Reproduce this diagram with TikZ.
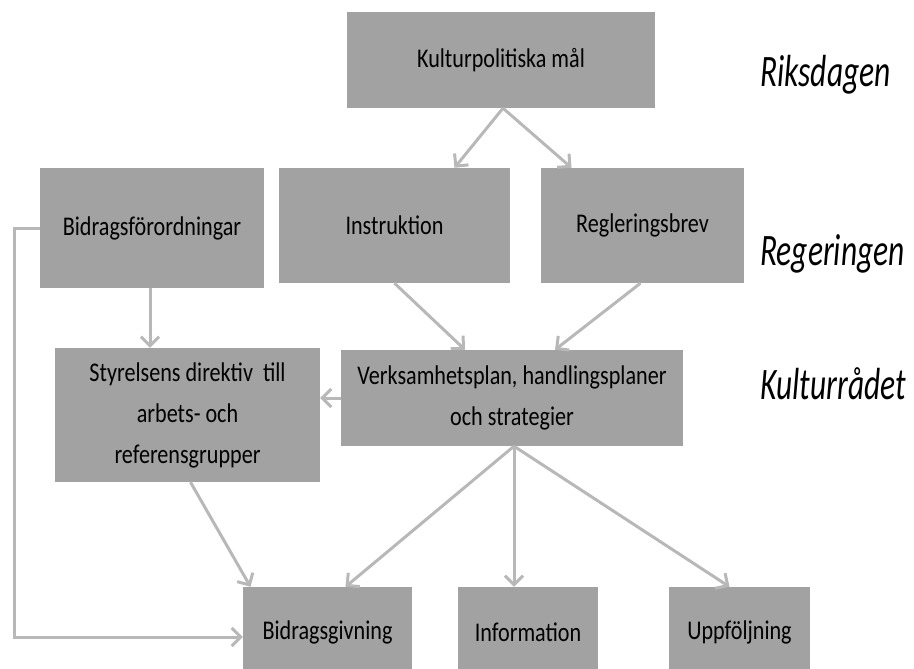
\documentclass[tikz,border=0pt]{standalone}
\usepackage{fontspec}
\setmainfont{Carlito}
\newfontfamily\boxfont[FakeStretch=0.82]{Carlito}
\newfontfamily\lvlfont[FakeStretch=0.7]{Carlito}
\usetikzlibrary{arrows.meta,calc}
\definecolor{boxgray}{HTML}{A2A2A2}
\definecolor{linegray}{HTML}{B8B8B8}
\begin{document}
\begin{tikzpicture}[x=1pt,y=-1pt,
  box/.style={fill=boxgray, draw=none, inner sep=0pt, align=center,
    font=\boxfont\fontsize{27}{41}\selectfont},
  conn/.style={draw=linegray, line width=3pt,
    -{Straight Barb[length=9pt,width=18pt,line width=3pt]}},
  lvl/.style={anchor=base west, inner sep=0pt, font=\lvlfont\fontsize{45}{50}\selectfont\itshape}]
\useasboundingbox (0,0) rectangle (914,669);

\node[box, minimum width=308, minimum height=96] (K) at (501,60) {Kulturpolitiska mål};
\node[box, minimum width=231, minimum height=115] (ins) at (394.5,225.5) {Instruktion};
\node[box, minimum width=203, minimum height=115] (reg) at (642.5,225.5) {Regleringsbrev};
\node[box, minimum width=224, minimum height=120] (bf) at (152,228) {Bidragsförordningar};
\node[box, minimum width=265, minimum height=134] (styr) at (187.5,415) {Styrelsens direktiv\ \ till\\arbets- och\\referensgrupper};
\node[box, minimum width=342, minimum height=96] (verk) at (512,398) {Verksamhetsplan, handlingsplaner\\och strategier};
\node[box, minimum width=169, minimum height=90] (bg) at (327.5,632) {Bidragsgivning};
\node[box, minimum width=140, minimum height=90] (info) at (528,632) {Information};
\node[box, minimum width=141, minimum height=90] (upp) at (739.5,632) {Uppföljning};

\node[lvl] (riks) at (760,87) {Riksdagen};
\node[lvl] (rege) at (760,265) {Regeringen};
\node[lvl] (kult) at (760,399) {Kulturrådet};

\draw[conn] ([xshift=2pt]K.south) -- ([xshift=60pt]ins.north);
\draw[conn] ([xshift=2pt]K.south) -- ([xshift=-71pt]reg.north);
\draw[conn] (ins.south) -- ([xshift=-47pt]verk.north);
\draw[conn] ([xshift=-2pt]reg.south) -- ([xshift=43pt]verk.north);
\draw[conn] ([xshift=-2pt]bf.south) -- ([xshift=-2pt]bf.south |- styr.north);
\draw[conn] (verk.west) -- (verk.west -| styr.east);
\draw[conn] ([xshift=3pt]styr.south) -- ([xshift=-77pt]bg.north);
\draw[conn] ([xshift=2pt]verk.south) -- ([xshift=18pt]bg.north);
\draw[conn] ([xshift=2pt]verk.south) -- ([xshift=-14pt]info.north);
\draw[conn] ([xshift=2pt]verk.south) -- ([xshift=-10pt]upp.north);
\draw[conn] (bf.west) -- ++(-25,0) |- ([yshift=-5pt]bg.west);
\end{tikzpicture}
\end{document}
